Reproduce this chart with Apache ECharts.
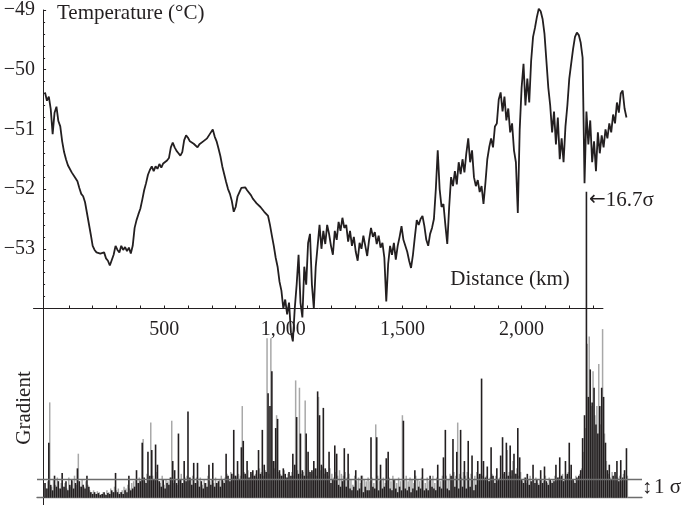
<!DOCTYPE html>
<html>
<head>
<meta charset="utf-8">
<script src="https://cdn.jsdelivr.net/npm/echarts@6/dist/echarts.min.js"></script>
<style>
  html, body { margin: 0; padding: 0; background: #fff; }
  #chart { width: 681px; height: 505px; }
</style>
</head>
<body>
<div id="chart"></div>
<script>
// Along-track samples, one every STEP_KM kilometres starting at 0 km.
const STEP_KM = 8;

// Temperature (°C) along the track.
const temperature = [
  -50.38, -50.52, -50.45, -50.66, -51.08, -50.72, -50.62, -50.86, -50.95, -51.2,
  -51.38, -51.5, -51.6, -51.62, -51.72, -51.7, -51.82, -51.87, -51.98, -52.08,
  -52.12, -52.22, -52.4, -52.58, -52.76, -52.95, -53.02, -53.06, -53.03, -53.08,
  -53.1, -53.06, -53.16, -53.2, -53.28, -53.3, -53.1, -52.95, -53.02, -53.06,
  -52.95, -53.02, -52.97, -53.04, -52.98, -53.08, -52.95, -52.65, -52.52, -52.42,
  -52.33, -52.18, -52.02, -51.9, -51.76, -51.68, -51.62, -51.7, -51.62, -51.66,
  -51.58, -51.64, -51.57, -51.6, -51.52, -51.48, -51.3, -51.22, -51.3, -51.36,
  -51.4, -51.44, -51.38, -51.18, -51.1, -51.14, -51.2, -51.18, -51.24, -51.26,
  -51.3, -51.25, -51.28, -51.2, -51.22, -51.15, -51.1, -51.05, -51.0, -51.12,
  -51.2, -51.32, -51.45, -51.62, -51.75, -51.88, -52.0, -52.08, -52.2, -52.38,
  -52.3, -52.12, -52.05, -51.98, -52.0, -51.97, -52.02, -52.05, -52.1, -52.16,
  -52.2, -52.24, -52.27, -52.3, -52.33, -52.38, -52.35, -52.45, -52.6, -52.78,
  -52.95, -53.15, -53.3, -53.55, -53.7, -54.0, -53.85, -54.1, -53.9, -54.4,
  -54.55, -54.0, -53.6, -53.1, -53.9, -54.15, -53.3, -53.6, -52.9, -52.75,
  -53.6, -54.0, -53.3, -52.95, -52.6, -53.0, -52.7, -52.92, -52.6, -52.75,
  -52.95, -53.1, -52.7, -52.85, -52.55, -52.7, -52.48, -52.65, -52.6, -52.88,
  -52.7, -52.95, -52.8, -53.05, -53.2, -52.9, -53.0, -52.78, -52.95, -53.12,
  -52.85, -52.65, -52.8, -52.72, -52.92, -52.78, -52.98, -52.9, -53.15, -53.88,
  -53.25, -52.95, -53.1, -52.9, -53.18, -52.95, -52.8, -52.62, -52.85, -52.95,
  -53.05, -53.2, -53.32, -53.1, -52.8, -52.52, -52.6, -52.5, -52.45, -52.62,
  -52.85, -52.95, -52.75, -52.65, -52.5, -52.0, -51.35, -52.0, -52.3, -52.25,
  -52.6, -52.92, -52.3, -51.8, -51.95, -51.7, -51.92, -51.55, -51.75, -51.5,
  -51.72, -51.4, -51.15, -51.55, -51.35, -51.8, -51.95, -51.85, -52.05, -51.95,
  -52.25, -51.9, -51.5, -51.3, -51.15, -51.3, -50.95, -50.9, -50.5, -50.38,
  -50.7, -50.45, -50.85, -50.65, -51.05, -50.9, -51.35, -51.55, -52.4, -51.0,
  -50.3, -49.9, -50.6, -50.15, -50.55, -49.85, -49.45, -49.3, -49.12, -48.98,
  -49.02, -49.15, -49.4, -49.85, -50.3, -50.6, -51.05, -50.7, -51.25, -50.8,
  -51.5, -51.15, -51.55, -50.95, -50.6, -50.15, -49.9, -49.65, -49.45, -49.38,
  -49.42, -49.55, -49.8, -51.9, -50.7, -51.25, -50.85, -51.55, -51.2, -51.7,
  -51.05, -51.4, -51.1, -51.3, -51.0, -51.15, -50.9, -51.05, -50.75, -50.9,
  -50.55, -50.72, -50.4, -50.35, -50.65, -50.8
];

// Gradient magnitude in units of sigma, sampled on the same kilometre grid.
const gradientBlack = [
  0.8, 0.5, 3.0, 0.7, 0.4, 1.2, 0.6, 0.9, 0.5, 1.35,
  0.6, 0.9, 0.4, 0.7, 1.0, 0.5, 0.8, 1.6, 0.9, 0.6,
  0.7, 0.5, 1.2, 0.6, 0.3, 0.2, 0.3, 0.2, 0.25, 0.15,
  0.2, 0.3, 0.15, 0.25, 0.2, 0.4, 0.3, 1.35, 0.3, 0.2,
  0.3, 0.2, 0.4, 0.3, 1.2, 0.4, 0.5, 0.6, 1.5, 0.8,
  0.9, 3.0, 1.1, 0.8, 2.5, 1.2, 2.6, 1.0, 2.9, 1.8,
  0.9, 0.6, 1.0, 0.5, 0.8, 0.7, 1.1, 2.0, 1.5, 0.8,
  3.5, 1.0, 0.8, 2.0, 0.9, 4.7, 1.1, 0.7, 1.9, 0.8,
  1.9, 0.6, 0.9, 0.5, 0.8, 0.6, 1.8, 0.7, 1.9, 0.6,
  0.8, 0.9, 0.6, 1.0, 0.8, 2.4, 1.2, 0.9, 1.3, 3.7,
  1.2, 2.0, 1.0, 2.75, 3.1, 1.3, 2.0, 1.1, 1.4, 1.5,
  1.2, 1.5, 2.6, 1.3, 3.7, 1.8, 1.4, 5.7, 5.0, 6.9,
  2.0, 3.8, 4.3, 1.5, 1.2, 1.6, 1.3, 1.1, 1.4, 1.2,
  2.4, 1.8, 4.4, 1.3, 3.5, 1.5, 1.2, 3.5, 2.5, 1.4,
  1.5, 2.0, 1.6, 5.8, 4.5, 1.8, 4.9, 1.6, 1.4, 2.5,
  0.8, 1.0, 2.85, 2.4, 0.7, 0.6, 0.9, 2.7, 0.6, 2.4,
  0.5, 0.4, 0.6, 1.5, 0.4, 0.5, 1.2, 0.3, 0.6, 0.4,
  0.4, 3.3, 0.6, 0.5, 3.3, 0.4, 1.8, 0.5, 0.6, 2.15,
  2.5, 0.5, 0.4, 1.0, 0.5, 0.3, 0.6, 0.4, 4.2, 0.5,
  0.4, 0.6, 0.3, 0.5, 1.5, 0.4, 0.6, 0.5, 1.6, 0.4,
  0.5, 0.4, 1.2, 0.6, 0.5, 0.4, 1.8, 0.6, 0.5, 2.2,
  3.7, 0.5, 0.4, 1.2, 3.2, 0.6, 2.5, 0.5, 3.7, 0.6,
  2.0, 0.5, 3.1, 0.6, 2.3, 0.4, 0.7, 2.0, 1.3, 6.5,
  2.0, 1.1, 1.7, 0.9, 2.75, 1.2, 0.8, 1.6, 1.0, 2.3,
  3.3, 1.4, 3.0, 1.2, 2.85, 1.5, 2.4, 1.3, 3.8, 2.2,
  1.0, 0.8, 1.1, 1.3, 0.7, 0.9, 1.8, 0.8, 1.0, 0.7,
  1.5, 0.8, 1.7, 0.9, 0.7, 1.0, 0.8, 0.9, 1.8, 1.1,
  2.2, 1.2, 0.9, 2.0, 1.3, 3.0, 1.8, 1.0, 0.8, 1.1,
  1.2, 1.5, 3.25, 4.5, 16.7, 5.5, 7.0, 5.2, 6.0, 4.0,
  3.5, 5.0, 6.0, 5.5, 3.0, 1.5, 1.8, 1.0, 1.2, 1.4,
  2.0, 0.9, 2.05, 1.1, 1.5, 2.7
];

// Second gradient trace, sampled half a step later than the first.
const gradientGray = [
  0.5, 0.9, 5.2, 0.6, 1.0, 0.7, 1.1, 0.5, 0.8, 0.6,
  0.8, 0.5, 1.1, 0.6, 0.9, 1.2, 0.7, 2.4, 0.6, 1.0,
  0.6, 0.9, 0.7, 0.4, 0.3, 0.4, 0.2, 0.35, 0.3, 0.2,
  0.3, 0.2, 0.4, 0.3, 0.5, 0.3, 0.6, 0.4, 0.5, 0.3,
  0.4, 0.6, 0.5, 0.7, 0.5, 0.8, 0.9, 1.0, 0.8, 1.1,
  1.0, 3.2, 0.9, 1.3, 1.1, 4.1, 1.2, 1.0, 1.4, 0.9,
  0.8, 1.2, 0.7, 1.0, 0.9, 1.1, 4.2, 0.8, 1.0, 0.7,
  1.0, 1.3, 0.8, 1.1, 1.2, 0.9, 1.0, 1.2, 0.8, 1.1,
  0.9, 1.1, 0.7, 1.0, 0.8, 1.2, 0.9, 1.0, 0.8, 1.1,
  0.8, 1.0, 1.2, 0.9, 1.1, 1.3, 1.0, 1.4, 1.1, 1.2,
  1.1, 1.3, 1.2, 5.0, 1.4, 1.2, 1.5, 1.1, 1.3, 1.2,
  1.3, 1.1, 1.6, 1.4, 1.2, 1.5, 8.7, 1.3, 8.7, 2.0,
  1.6, 4.5, 1.4, 1.3, 1.2, 1.5, 1.1, 1.3, 1.0, 1.4,
  1.2, 6.4, 1.5, 6.0, 1.3, 1.4, 5.3, 1.2, 1.5, 1.3,
  1.4, 1.6, 1.2, 5.5, 1.5, 1.7, 1.3, 1.5, 1.2, 1.6,
  1.3, 1.1, 1.4, 1.2, 1.5, 1.3, 1.2, 1.4, 1.1, 1.3,
  1.0, 0.7, 1.2, 0.9, 1.1, 0.8, 1.2, 1.0, 0.9, 1.1,
  0.9, 1.1, 0.8, 4.0, 1.2, 0.9, 1.0, 1.1, 0.8, 1.0,
  1.1, 0.9, 1.2, 1.0, 0.8, 1.1, 0.9, 4.5, 1.0, 1.2,
  0.9, 1.1, 1.0, 0.8, 1.2, 1.0, 0.9, 1.1, 1.0, 0.8,
  1.1, 0.9, 1.0, 1.2, 0.8, 1.1, 1.0, 0.9, 1.2, 1.0,
  1.2, 1.0, 1.3, 1.1, 1.4, 1.2, 4.1, 1.3, 1.1, 1.4,
  1.2, 1.4, 1.1, 1.3, 1.0, 1.2, 1.4, 1.1, 1.3, 1.2,
  1.0, 1.2, 0.9, 1.1, 1.3, 1.0, 1.2, 0.9, 1.1, 1.0,
  1.3, 1.1, 2.6, 1.4, 1.2, 2.0, 1.3, 1.6, 1.2, 1.4,
  0.9, 1.1, 0.8, 1.0, 1.2, 0.9, 1.0, 1.1, 0.8, 1.0,
  1.0, 0.9, 1.2, 0.8, 1.1, 0.9, 1.0, 1.2, 0.9, 1.1,
  1.1, 1.3, 1.0, 1.2, 1.4, 1.1, 1.0, 0.9, 1.2, 1.0,
  1.3, 1.6, 2.5, 3.8, 8.4, 8.8, 5.0, 6.9, 4.5, 5.0,
  7.3, 4.0, 9.2, 3.5, 2.0, 1.3, 1.1, 1.4, 1.0, 1.2,
  1.1, 1.2, 0.9, 1.3, 1.0, 1.2
];

const distanceLabels = [500, 1000, 1500, 2000];
const distanceTicks = [100, 200, 300, 400, 500, 600, 700, 800, 900, 1000, 1100, 1200,
  1300, 1400, 1500, 1600, 1700, 1800, 1900, 2000, 2100, 2200, 2300];
const distanceAxisEnd = 2343;
const tempMin = -54, tempMax = -49;
const peakSigma = 16.7;
const sigmaLine = 1;

const FONT = '"Liberation Serif", "DejaVu Serif", serif';
const INK = '#231f20';
const LINE_GREY = '#6d6d6d';

const tempData = temperature.map((t, i) => [i * STEP_KM, t]);
const blackData = gradientBlack.map((g, i) => [i * STEP_KM, g]);
const grayData = gradientGray.map((g, i) => [i * STEP_KM + STEP_KM / 2, g]);

const withComma = v => String(v).replace(/\B(?=(\d{3})+(?!\d))/g, ',');
const minus = v => (v < 0 ? '\u2212' + Math.abs(v) : String(v));

const chart = echarts.init(document.getElementById('chart'), null, { renderer: 'canvas' });

chart.setOption({
  animation: false,
  backgroundColor: '#fff',
  textStyle: { fontFamily: FONT, color: INK },
  grid: [
    // both panels share one km scale, 0 km at x = 45 px
    { left: 33.1, top: 8.5, width: 608.9, height: 300 },
    { left: 37, top: 191.7, width: 605, height: 313.3 }
  ],
  xAxis: [
    {
      type: 'value', gridIndex: 0, min: -50, max: 2505.2,
      axisLine: { show: false },
      axisTick: { show: true, inside: true, length: 3, customValues: distanceTicks, lineStyle: { color: INK } },
      axisLabel: {
        customValues: distanceLabels, formatter: withComma,
        fontFamily: FONT, fontSize: 20, color: INK, margin: 11
      },
      splitLine: { show: false }
    },
    {
      type: 'value', gridIndex: 1, min: -33.6, max: 2505.2,
      axisLine: { onZero: true, lineStyle: { color: LINE_GREY, width: 1.3 } },
      axisTick: { show: false }, axisLabel: { show: false }, splitLine: { show: false }
    }
  ],
  yAxis: [
    {
      type: 'value', gridIndex: 0, min: tempMin, max: tempMax, interval: 1, offset: -10,
      axisLine: { show: true, onZero: false, lineStyle: { color: INK, width: 1 } },
      axisTick: { inside: true, length: 3, lineStyle: { color: INK } },
      minorTick: { show: true, splitNumber: 5, length: 2, lineStyle: { color: INK } },
      axisLabel: {
        formatter: v => (v === tempMin ? '' : minus(v)),
        fontFamily: FONT, fontSize: 20, color: INK, margin: 8, padding: [6, 0, 0, 0]
      },
      splitLine: { show: false }
    },
    {
      type: 'value', gridIndex: 1, min: -0.4, max: peakSigma, offset: -6,
      axisLine: { show: true, onZero: false, lineStyle: { color: INK, width: 1 } },
      axisTick: { show: false }, axisLabel: { show: false }, splitLine: { show: false }
    }
  ],
  series: [
    {
      type: 'bar', xAxisIndex: 1, yAxisIndex: 1, data: grayData,
      barWidth: 1.5, barGap: '-100%', silent: true,
      itemStyle: { color: '#a8a8a8' }
    },
    {
      type: 'bar', xAxisIndex: 1, yAxisIndex: 1, data: blackData,
      barWidth: 1.6, barGap: '-100%', silent: true,
      itemStyle: { color: INK },
      markLine: {
        silent: true, symbol: 'none', label: { show: false },
        lineStyle: { color: LINE_GREY, width: 1.3, type: 'solid' },
        data: [{ yAxis: sigmaLine }]
      }
    },
    {
      type: 'line', xAxisIndex: 0, yAxisIndex: 0, data: tempData,
      showSymbol: false, clip: false, silent: true,
      lineStyle: { color: INK, width: 1.8 },
      // distance axis line, which stops short of the last samples
      markLine: {
        silent: true, symbol: 'none', label: { show: false },
        lineStyle: { color: INK, width: 1, type: 'solid' },
        data: [[{ coord: [-50, tempMin] }, { coord: [distanceAxisEnd, tempMin] }]]
      }
    }
  ],
  graphic: [
    { type: 'text', left: 57, top: 3, style: { text: 'Temperature (°C)', font: '21px ' + FONT, fill: INK } },
    { type: 'text', x: 510, y: 279, style: { text: 'Distance (km)', font: '21px ' + FONT, fill: INK, align: 'center', verticalAlign: 'middle' } },
    {
      type: 'text', x: 589, y: 200,
      style: {
        text: '{a|\u2190}{b|16.7\u03c3}', verticalAlign: 'middle',
        rich: {
          a: { font: '20px "DejaVu Sans"', fill: INK, verticalAlign: 'middle' },
          b: { font: '21px ' + FONT, fill: INK, verticalAlign: 'middle' }
        }
      }
    },
    { type: 'text', x: 24, y: 408, rotation: Math.PI / 2, style: { text: 'Gradient', font: '21px ' + FONT, fill: INK, align: 'center', verticalAlign: 'middle' } },
    { type: 'text', x: 647, y: 488, style: { text: '\u2195', font: '20px ' + FONT, fill: INK, align: 'center', verticalAlign: 'middle' } },
    { type: 'text', x: 654, y: 487, style: { text: '1 \u03c3', font: '21px ' + FONT, fill: INK, verticalAlign: 'middle' } }
  ]
});
</script>
</body>
</html>
